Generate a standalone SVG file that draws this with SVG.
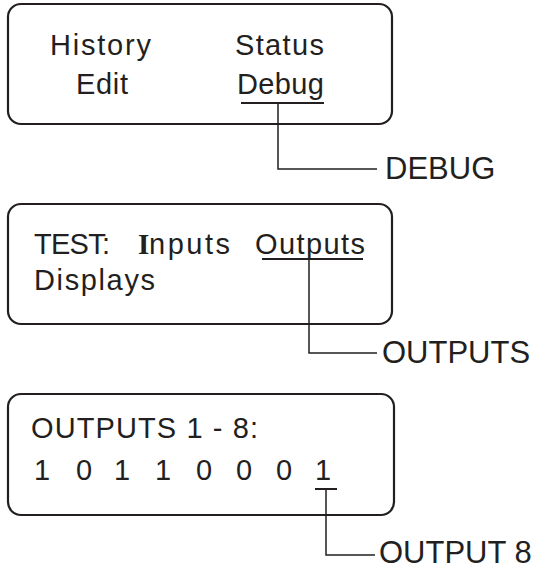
<svg xmlns="http://www.w3.org/2000/svg" width="538" height="573" viewBox="0 0 538 573">
<style>
.box{fill:none;stroke:#231f20;stroke-width:2.2}
.lcd{font-family:"Liberation Sans",Arial,sans-serif;font-size:29px;fill:#231f20}
.lbl{font-family:"Liberation Sans",Arial,sans-serif;font-size:31px;fill:#231f20}
.cur{font-family:"Liberation Serif","Times New Roman",serif;font-size:29px;font-weight:bold;fill:#231f20}
.ul{stroke:#231f20;stroke-width:2;fill:none}
.con{stroke:#231f20;stroke-width:1.5;fill:none}
</style>
<rect width="538" height="573" fill="#fff"/>
<g id="screen1">
<rect class="box" x="8" y="4" width="384" height="120" rx="13"/>
<text class="lcd" x="50" y="55" textLength="101" lengthAdjust="spacing">History</text>
<text class="lcd" x="235" y="55" textLength="89" lengthAdjust="spacing">Status</text>
<text class="lcd" x="76" y="94" textLength="52" lengthAdjust="spacing">Edit</text>
<text class="lcd" x="237" y="94" textLength="87" lengthAdjust="spacing">Debug</text>
<line class="ul" x1="241" y1="103" x2="324" y2="103"/>
</g>
<g id="screen2">
<rect class="box" x="8" y="204" width="384" height="120" rx="13"/>
<text class="lcd" x="34" y="254" textLength="76" lengthAdjust="spacing">TEST:</text>
<text class="cur" x="138" y="254">I</text>
<text class="lcd" x="149" y="254" textLength="81" lengthAdjust="spacing">nputs</text>
<text class="lcd" x="255" y="254" textLength="110" lengthAdjust="spacing">Outputs</text>
<text class="lcd" x="34" y="290" textLength="121" lengthAdjust="spacing">Displays</text>
<line class="ul" x1="262" y1="259" x2="363" y2="259"/>
</g>
<g id="screen3">
<rect class="box" x="8" y="394" width="386" height="121" rx="13"/>
<text class="lcd" x="31" y="438" textLength="227" lengthAdjust="spacing">OUTPUTS 1 - 8:</text>
<g class="lcd">
<text x="34" y="480">1</text>
<text x="76" y="480">0</text>
<text x="114" y="480">1</text>
<text x="155" y="480">1</text>
<text x="196" y="480">0</text>
<text x="236" y="480">0</text>
<text x="276" y="480">0</text>
<text x="315" y="480">1</text>
</g>
<line class="ul" x1="315" y1="489" x2="337" y2="489"/>
</g>
<g id="label-debug"><text class="lbl" x="385" y="179">DEBUG</text></g>
<g id="label-outputs"><text class="lbl" x="382" y="363">OUTPUTS</text></g>
<g id="label-output8"><text class="lbl" x="379" y="563">OUTPUT 8</text></g>
<g id="connectors">
<polyline class="con" points="278,103 278,169 377,169"/>
<polyline class="con" points="309,259 309,353 377,353"/>
<polyline class="con" points="326,489 326,555 375,555"/>
</g>
</svg>
